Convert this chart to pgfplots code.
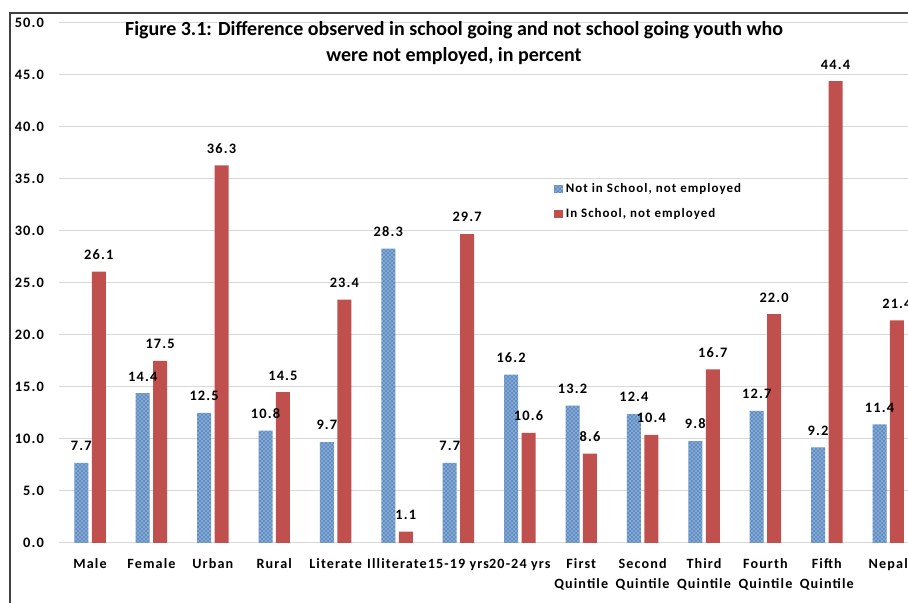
\documentclass[border=0pt]{standalone}
\usepackage{pgfplots}
\pgfplotsset{compat=1.18}
\usepackage{fontspec}
\setmainfont{Carlito}[LetterSpace=8]
\newfontfamily\titlefont{Carlito}
\usetikzlibrary{patterns}
\definecolor{bblue}{HTML}{4F81BD}
\definecolor{rred}{HTML}{C0504D}
\definecolor{gridc}{HTML}{D9D9D9}
\definecolor{framec}{HTML}{404040}
\begin{document}
\begin{tikzpicture}
\clip (0,0) rectangle (681pt,452.25pt);
\begin{axis}[
  at={(44.5pt,45pt)}, anchor=south west,
  scale only axis, width=644.7pt, height=390pt,
  xmin=-0.5, xmax=13.5, ymin=0, ymax=50,
  ybar, bar width=0.228,
  ytick={0,5,...,50},
  xtick={0,...,13},
  xticklabels={Male,Female,Urban,Rural,Literate,Illiterate,15-19 yrs,20-24 yrs,First\\Quintile,Second\\Quintile,Third\\Quintile,Fourth\\Quintile,Fifth\\Quintile,Nepal},
  /pgf/number format/assume math mode=true,
  yticklabel style={/pgf/number format/.cd, fixed, fixed zerofill, precision=1, /tikz/.cd, font=\bfseries\fontsize{10.8}{12}\selectfont, anchor=east, xshift=-8pt},
  xticklabel style={font=\bfseries\fontsize{10.6}{15}\selectfont, align=center, anchor=north, yshift=-8.5pt},
  major tick length=0pt,
  ymajorgrids, major grid style={gridc, line width=0.75pt},
  axis line style={draw=none},
  nodes near coords,
  every node near coord/.append style={font=\bfseries\fontsize{10.8}{12}\selectfont, /pgf/number format/.cd, fixed, fixed zerofill, precision=1, assume math mode=true, /tikz/.cd, yshift=5.5pt},
  legend style={at={(0.571,0.702)}, anchor=north west, draw=none, fill=none, font=\bfseries\fontsize{9.7}{11}\selectfont, row sep=6.5pt, legend cell align=left},
  legend image code/.code={\path[#1,draw=none] (0pt,-3.2pt) rectangle (6.5pt,3.2pt);},
]
\addplot[bar shift=-0.142, fill=bblue!90, draw=none, postaction={pattern=crosshatch dots, pattern color=white}] coordinates {
(0,7.7) (1,14.4) (2,12.5) (3,10.8) (4,9.7) (5,28.3) (6,7.7) (7,16.2) (8,13.2) (9,12.4) (10,9.8) (11,12.7) (12,9.2) (13,11.4)};
\addlegendentry{Not in School, not employed}
\addplot[bar shift=0.142, fill=rred, draw=none] coordinates {
(0,26.1) (1,17.5) (2,36.3) (3,14.5) (4,23.4) (5,1.1) (6,29.7) (7,10.6) (8,8.6) (9,10.4) (10,16.7) (11,22.0) (12,44.4) (13,21.4)};
\addlegendentry{In School, not employed}
\end{axis}
\node[font=\titlefont\bfseries\fontsize{15}{19.5}\selectfont, align=center] at (340.5pt,420pt) {Figure 3.1: Difference observed in school going and not school going youth who\\were not employed, in percent};
\draw[framec, line width=1.1pt] (7.5pt,-2pt) -- (7.5pt,442.5pt) -- (690pt,442.5pt);
\end{tikzpicture}
\end{document}
